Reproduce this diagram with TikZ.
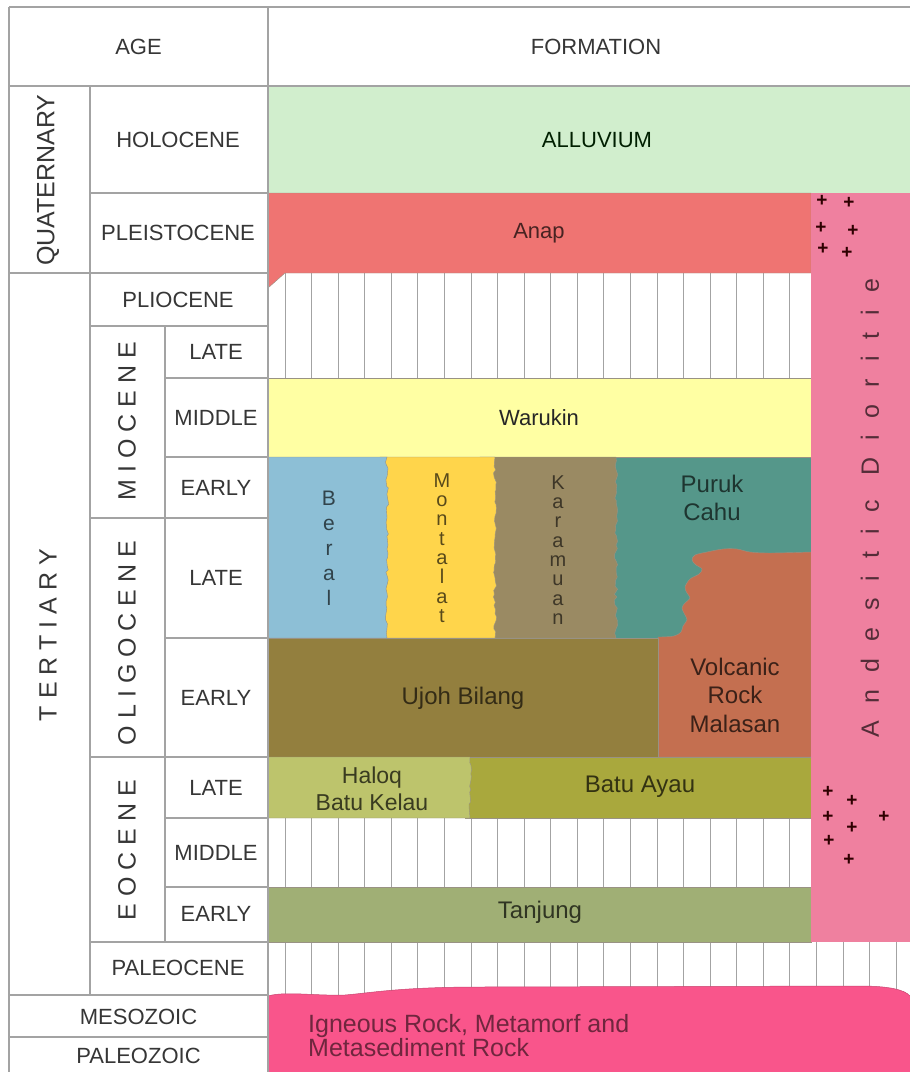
\documentclass[tikz,border=0pt]{standalone}
\usepackage{fontspec}
\setmainfont{Liberation Sans}
\newfontfamily\spacedfont[LetterSpace=68]{Liberation Sans}
\usetikzlibrary{decorations.pathmorphing}
\definecolor{gridc}{HTML}{A3A3A3}
\definecolor{labc}{HTML}{363636}
\definecolor{alluv}{HTML}{D1EECD}
\definecolor{anap}{HTML}{EF7472}
\definecolor{andes}{HTML}{EF809F}
\definecolor{waru}{HTML}{FFFFA3}
\definecolor{beral}{HTML}{8DBFD6}
\definecolor{monta}{HTML}{FFD54B}
\definecolor{karam}{HTML}{9A8A63}
\definecolor{puruk}{HTML}{55978A}
\definecolor{volc}{HTML}{C46F50}
\definecolor{ujoh}{HTML}{937F3E}
\definecolor{haloq}{HTML}{BDC46C}
\definecolor{bayau}{HTML}{A9A83D}
\definecolor{tanj}{HTML}{A0AF75}
\definecolor{ign}{HTML}{F9558B}
\definecolor{edgec}{HTML}{6E6450}
\begin{document}
\begin{tikzpicture}[x=1pt,y=-1pt,
  gridline/.style={draw=gridc, line width=1.2pt},
  hatchline/.style={draw=gridc, line width=0.9pt},
  block/.style={draw=edgec!70, line width=0.4pt},
  jag/.style={decoration={random steps, segment length=4pt, amplitude=1.6pt}},
  lbl/.style={font=\fontsize{22}{26}\selectfont, text=labc, inner sep=0pt},
  vlbl/.style={font=\fontsize{25}{28}\selectfont, text=labc, inner sep=0pt, rotate=90},
  fm/.style={inner sep=0pt, align=center, font=\fontsize{22}{28}\selectfont},
  fmb/.style={inner sep=0pt, align=center, font=\fontsize{24}{28.5}\selectfont},
  stack/.style={inner sep=0pt, align=center, font=\fontsize{20}{19.3}\selectfont},
  plus/.style={inner sep=0pt, font=\fontsize{19}{19}\bfseries, text=black!70!red!60!black},
]
\useasboundingbox (0,0) rectangle (910,1072);
\fill[white] (0,0) rectangle (910,1072);

% ---- formation blocks ----
\path[fill=alluv] (268,86) rectangle (910,193);
\foreach \i in {0,...,19} {
  \draw[hatchline] (285+26.57*\i,273) -- (285+26.57*\i,378);
  \draw[hatchline] (285+26.57*\i,818) -- (285+26.57*\i,887);
}
\foreach \i in {0,...,23} \draw[hatchline] (285+26.57*\i,942) -- (285+26.57*\i,998);
\path[fill=anap, block] (268,193) -- (811,193) -- (811,273) -- (285,273) -- (268,288) -- cycle;
\path[fill=waru, block] (268,378) rectangle (811,457);
\path[fill=puruk, block] (600,457) rectangle (811,638);
\path[fill=volc, block] (811,757) -- (811,552)
  -- plot[smooth, tension=0.55] coordinates {(811,552) (770,553) (750,552) (737,549) (723,549) (707,552) (695,555) (692,560) (696,565) (702,569) (699,574) (690,579) (685,587) (687,593) (690,598) (685,603) (682,608) (685,615) (687,620) (683,626) (681,632) (674,636) (660,637)}
  -- (658,637) -- (658,757) -- cycle;
\pgfmathsetseed{7}
\path[fill=karam, block] (480,457) -- (616,457) decorate[jag]{-- (616,638)} -- (480,638) -- cycle;
\pgfmathsetseed{19}
\path[fill=monta, block] (380,457) -- (495,457) decorate[jag]{-- (495,638)} -- (380,638) -- cycle;
\pgfmathsetseed{31}
\path[fill=beral, block] (268,457) -- (387,457) decorate[jag]{-- (387,638)} -- (268,638) -- cycle;
\path[fill=ujoh, block] (268,638) rectangle (658,757);
\path[fill=bayau, block] (465,757) rectangle (811,818);
\pgfmathsetseed{43}
\path[fill=haloq, block] (268,757) -- (470,757) decorate[jag]{-- (470,818)} -- (268,818) -- cycle;
\path[fill=tanj, block] (268,887) rectangle (811,942);
\path[fill=andes] (811,193) rectangle (910,942);
\path[fill=ign] (268,1072) -- (268,996)
  .. controls (285,991) and (315,996) .. (345,995)
  .. controls (370,993) and (400,987) .. (480,987)
  -- (860,986) .. controls (890,986) and (905,990) .. (910,996) -- (910,1072) -- cycle;
\draw[draw=ign!80!black, line width=0.5pt] (268,996)
  .. controls (285,991) and (315,996) .. (345,995)
  .. controls (370,993) and (400,987) .. (480,987)
  -- (860,986) .. controls (890,986) and (905,990) .. (910,996);

% ---- grid ----
\draw[gridline] (9,7) -- (910,7);
\draw[gridline] (9,86) -- (910,86);
\draw[gridline] (90,193) -- (268,193);
\draw[gridline] (9,273) -- (268,273);
\draw[gridline] (90,326) -- (268,326);
\draw[gridline] (165,378) -- (268,378);
\draw[gridline] (165,457) -- (268,457);
\draw[gridline] (90,518) -- (268,518);
\draw[gridline] (165,638) -- (268,638);
\draw[gridline] (90,757) -- (268,757);
\draw[gridline] (165,818) -- (268,818);
\draw[gridline] (165,887) -- (268,887);
\draw[gridline] (90,942) -- (268,942);
\draw[gridline] (9,995) -- (268,995);
\draw[gridline] (9,1037) -- (268,1037);
\draw[gridline] (9,7) -- (9,1072);
\draw[gridline] (90,86) -- (90,995);
\draw[gridline] (165,326) -- (165,942);
\draw[gridline] (268,7) -- (268,1072);

% ---- age labels ----
\node[lbl] (age) at (138.5,47) {AGE};
\node[lbl] (formation) at (596,47) {FORMATION};
\node[vlbl] (quat) at (48,180) {QUATERNARY};
\node[vlbl] (tert) at (48,635) {T E R T I A R Y};
\node[lbl] (holo) at (178,140) {HOLOCENE};
\node[lbl] (pleis) at (178,233) {PLEISTOCENE};
\node[lbl] (plio) at (178,300) {PLIOCENE};
\node[vlbl] (mio) at (127,421) {M I O C E N E};
\node[vlbl] (oligo) at (127,643) {O L I G O C E N E};
\node[vlbl] (eoc) at (127,850) {E O C E N E};
\node[lbl] (mlate) at (216,352) {LATE};
\node[lbl] (mmid) at (216,418) {MIDDLE};
\node[lbl] (mearly) at (216,488) {EARLY};
\node[lbl] (olate) at (216,578) {LATE};
\node[lbl] (oearly) at (216,698) {EARLY};
\node[lbl] (elate) at (216,788) {LATE};
\node[lbl] (emid) at (216,853) {MIDDLE};
\node[lbl] (eearly) at (216,914) {EARLY};
\node[lbl] (paleoc) at (178,968) {PALEOCENE};
\node[lbl] (meso) at (138.5,1017) {MESOZOIC};
\node[lbl] (paleoz) at (138.5,1056) {PALEOZOIC};

% ---- formation labels ----
\node[fm, text=black!80!green!60!black] (alluvium) at (597,140) {ALLUVIUM};
\node[fm, text=anap!30!black] (anapl) at (539,233) {Anap};
\node[fm, text=black!85] (warukin) at (539,418) {Warukin};
\node[stack, font=\fontsize{21}{25}\selectfont, text=beral!35!black] (berall) at (329,548) {B\\e\\r\\a\\l};
\node[stack, text=monta!35!black] (montalat) at (442,548) {M\\o\\n\\t\\a\\l\\a\\t};
\node[stack, text=karam!40!black] (karamuan) at (558,550) {K\\a\\r\\a\\m\\u\\a\\n};
\node[fmb, text=puruk!35!black] (purukl) at (712,498) {Puruk\\Cahu};
\node[fmb, text=ujoh!35!black] (ujohl) at (463,698) {Ujoh Bilang};
\node[fmb, text=volc!30!black] (volcl) at (735,695) {Volcanic\\Rock\\Malasan};
\node[fm, font=\fontsize{23}{27}\selectfont, text=haloq!30!black] (haloql) at (372,789) {Haloq\\Batu Kelau};
\node[fmb, text=bayau!30!black] (bayaul) at (640,787) {Batu Ayau};
\node[fmb, text=tanj!30!black] (tanjl) at (540,912) {Tanjung};
\node[inner sep=0pt, align=left, anchor=west, font=\fontsize{25}{24}\selectfont, text=ign!45!black] (igneous) at (308,1036) {Igneous Rock, Metamorf and\\Metasediment Rock};
\node[inner sep=0pt, rotate=90, font=\fontsize{25}{28}\spacedfont, text=andes!35!black] (andesl) at (870,508) {Andesitic Dioritie};

% ---- plus signs ----
\foreach \px/\py [count=\k] in {822/201, 849/203, 821/228, 853/231, 823/249, 847/253, 828/792, 852/801, 828/817, 884/817, 852/828, 829/841, 849/860}
  \node[plus] (plus\k) at (\px,\py) {+};
\end{tikzpicture}
\end{document}
